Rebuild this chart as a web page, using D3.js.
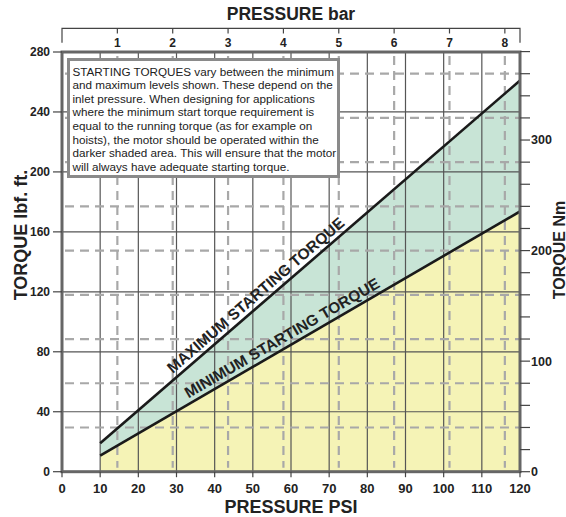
<!DOCTYPE html>
<html><head><meta charset="utf-8">
<script src="https://cdn.jsdelivr.net/npm/d3@7/dist/d3.min.js"></script>
<style>
html,body{margin:0;padding:0;background:#fff;}
svg{display:block;font-family:"Liberation Sans",Arial,Helvetica,sans-serif;}
</style></head>
<body>
<svg id="chart" width="566" height="517"></svg>
<script>
// ---- data ----
const pressurePsi = [10, 120];
const maxTorque = [19, 261];      // lbf.ft
const minTorque = [10.7, 173.6];  // lbf.ft
const psiTicks = [0,10,20,30,40,50,60,70,80,90,100,110,120];
const lbfTicks = [0,40,80,120,160,200,240,280];
const barTicks = [1,2,3,4,5,6,7,8];
const nmMinorTicks = d3.range(0, 381, 20);
const nmLabelTicks = [0,100,200,300];
const nmDashed = [40,80,120,160,200,240,280,320,360];
const noteLines = [
  "STARTING TORQUES vary between the minimum",
  "and maximum levels shown. These depend on the",
  "inlet pressure. When designing for applications",
  "where the minimum start torque requirement is",
  "equal to the running torque (as for example on",
  "hoists), the motor should be operated within the",
  "darker shaded area. This will ensure that the motor",
  "will always have adequate starting torque."
];
const PSI_PER_BAR = 14.5038;
const NM_PER_LBF = 1.35582;

// ---- scales ----
const svg = d3.select("#chart");
const x = d3.scaleLinear().domain([0,120]).range([62,520]);
const y = d3.scaleLinear().domain([0,280]).range([471.7,52]);
const yNm = v => y(v / NM_PER_LBF);
const xBar = v => x(v * PSI_PER_BAR);

const pts = pressurePsi.map((p,i)=>({p, mx:maxTorque[i], mn:minTorque[i]}));

svg.append("clipPath").attr("id","frame").append("rect")
  .attr("x",x(0)).attr("y",y(280)).attr("width",x(120)-x(0)).attr("height",y(0)-y(280));
const plot = svg.append("g").attr("clip-path","url(#frame)");

// fills
plot.append("path").datum(pts)
  .attr("d", d3.area().x(d=>x(d.p)).y0(d=>y(d.mn)).y1(d=>y(d.mx)))
  .attr("fill","#c8e4d6");
plot.append("path").datum(pts)
  .attr("d", d3.area().x(d=>x(d.p)).y0(y(0)).y1(d=>y(d.mn)))
  .attr("fill","#f5f3b6");

// solid grid
plot.selectAll("line.vg").data(psiTicks.filter(t=>t>0&&t<120)).join("line")
  .attr("x1",d=>x(d)).attr("x2",d=>x(d)).attr("y1",y(280)).attr("y2",y(0))
  .attr("stroke","#555").attr("stroke-width",1.2);
plot.selectAll("line.hg").data(lbfTicks.filter(t=>t>0&&t<280)).join("line")
  .attr("x1",x(0)).attr("x2",x(120)).attr("y1",d=>y(d)).attr("y2",d=>y(d))
  .attr("stroke","#555").attr("stroke-width",1.2);

// dashed grid
plot.selectAll("line.vd").data(barTicks).join("line")
  .attr("x1",d=>xBar(d)).attr("x2",d=>xBar(d)).attr("y1",y(280)+4).attr("y2",y(0)-4)
  .attr("stroke","#a8a8a8").attr("stroke-width",2.2).attr("stroke-dasharray","9,6");
plot.selectAll("line.hd").data(nmDashed).join("line")
  .attr("x1",x(0)+3).attr("x2",x(120)).attr("y1",d=>yNm(d)).attr("y2",d=>yNm(d))
  .attr("stroke","#a8a8a8").attr("stroke-width",2.2).attr("stroke-dasharray","9,6");

// torque lines
const line = key => d3.line().x(d=>x(d.p)).y(d=>y(d[key]));
plot.append("path").datum(pts).attr("d",line("mx")).attr("fill","none").attr("stroke","#1a1a1a").attr("stroke-width",2.6);
plot.append("path").datum(pts).attr("d",line("mn")).attr("fill","none").attr("stroke","#1a1a1a").attr("stroke-width",2.6);

// line labels
function lineLabel(text, key, psi, off, size){
  const a = pts[0], b = pts[1];
  const t = (psi - a.p)/(b.p - a.p);
  const v = a[key] + t*(b[key]-a[key]);
  const ang = Math.atan2(y(b[key])-y(a[key]), x(b.p)-x(a.p))*180/Math.PI;
  svg.append("text")
    .attr("transform",`translate(${x(psi)},${y(v)}) rotate(${ang})`)
    .attr("y",-off).attr("text-anchor","middle")
    .attr("font-size",size).attr("font-weight","bold").attr("fill","#222")
    .text(text);
}
lineLabel("MAXIMUM STARTING TORQUE","mx",52.5,5,15.5);
lineLabel("MINIMUM STARTING TORQUE","mn",59,5,15.5);

// note box
svg.append("rect").attr("x",68.5).attr("y",59.5).attr("width",270).attr("height",117)
  .attr("fill","#fff").attr("stroke","#8a8a8a").attr("stroke-width",3);
svg.append("g").selectAll("text").data(noteLines).join("text")
  .attr("x",72.5).attr("y",(d,i)=>75.5+i*13.6)
  .attr("font-size",11.7).attr("fill","#222").text(d=>d);

// frame
svg.append("rect").attr("x",x(0)).attr("y",y(280)).attr("width",x(120)-x(0)).attr("height",y(0)-y(280))
  .attr("fill","none").attr("stroke","#666").attr("stroke-width",3);

// left axis
const gl = svg.append("g");
gl.selectAll("line").data(lbfTicks).join("line")
  .attr("x1",53).attr("x2",x(0)).attr("y1",d=>y(d)).attr("y2",d=>y(d)).attr("stroke","#444").attr("stroke-width",1.2);
gl.selectAll("text").data(lbfTicks).join("text")
  .attr("x",50).attr("y",d=>y(d)).attr("dy","0.35em").attr("text-anchor","end")
  .attr("font-size",12).attr("font-weight","bold").attr("fill","#222").text(d=>d);

// bottom axis
const gb = svg.append("g");
gb.selectAll("line").data(psiTicks).join("line")
  .attr("x1",d=>x(d)).attr("x2",d=>x(d)).attr("y1",y(0)).attr("y2",y(0)+5.5).attr("stroke","#444").attr("stroke-width",1.2);
gb.selectAll("text").data(psiTicks).join("text")
  .attr("x",d=>x(d)).attr("y",493).attr("text-anchor","middle")
  .attr("font-size",13).attr("font-weight","bold").attr("fill","#222").text(d=>d);

// right axis (Nm)
const gr = svg.append("g");
gr.selectAll("line").data(nmMinorTicks).join("line")
  .attr("x1",x(120)).attr("x2",530).attr("y1",d=>yNm(d)).attr("y2",d=>yNm(d)).attr("stroke","#444").attr("stroke-width",1.2);
gr.selectAll("text").data(nmLabelTicks).join("text")
  .attr("x",531).attr("y",d=>yNm(d)).attr("dy","0.35em")
  .attr("font-size",12.5).attr("font-weight","bold").attr("fill","#222").text(d=>d);

// top axis (bar)
const gt = svg.append("g");
gt.append("path").attr("d",`M${x(0)},42.7V28.3H${x(120)}V42.7`).attr("fill","none").attr("stroke","#444").attr("stroke-width",1.2);
gt.selectAll("line").data(barTicks).join("line")
  .attr("x1",d=>xBar(d)).attr("x2",d=>xBar(d)).attr("y1",28.3).attr("y2",33.5).attr("stroke","#444").attr("stroke-width",1.2);
gt.selectAll("text").data(barTicks).join("text")
  .attr("x",d=>xBar(d)).attr("y",46.5).attr("text-anchor","middle")
  .attr("font-size",12).attr("font-weight","bold").attr("fill","#222").text(d=>d);

// titles
svg.append("text").attr("x",291).attr("y",20).attr("text-anchor","middle")
  .attr("font-size",17.5).attr("font-weight","bold").attr("fill","#222").text("PRESSURE bar");
svg.append("text").attr("x",291).attr("y",513).attr("text-anchor","middle")
  .attr("font-size",18).attr("font-weight","bold").attr("fill","#222").text("PRESSURE PSI");
svg.append("text").attr("transform","translate(27,235) rotate(-90)").attr("text-anchor","middle")
  .attr("font-size",18).attr("font-weight","bold").attr("fill","#222").text("TORQUE lbf. ft.");
svg.append("text").attr("transform","translate(564.5,250) rotate(-90)").attr("text-anchor","middle")
  .attr("font-size",16).attr("font-weight","bold").attr("fill","#222").text("TORQUE Nm");
</script>
</body></html>
